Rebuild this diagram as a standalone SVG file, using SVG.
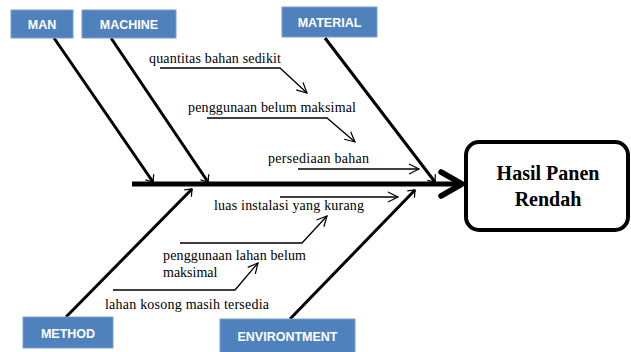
<svg xmlns="http://www.w3.org/2000/svg" width="631" height="352" viewBox="0 0 631 352">
<defs>
<marker id="big" viewBox="0 0 12 12" refX="10" refY="6" markerWidth="6" markerHeight="6" markerUnits="userSpaceOnUse" orient="auto" overflow="visible">
<path d="M-2,-4 L10,6 L-2,16" fill="none" stroke="#000" stroke-width="2.5"/>
</marker>
<marker id="sm" viewBox="0 0 10 10" refX="10" refY="5" markerWidth="10" markerHeight="10" markerUnits="userSpaceOnUse" orient="auto" overflow="visible">
<path d="M0,0 L10,5 L0,10" fill="none" stroke="#000" stroke-width="1.2"/>
</marker>
<marker id="spine" viewBox="0 0 10 10" refX="9" refY="5" markerWidth="10" markerHeight="10" markerUnits="userSpaceOnUse" orient="auto" overflow="visible">
<path d="M-12,-7 L9,5 L-12,17" fill="none" stroke="#000" stroke-width="5.5" stroke-linecap="round" stroke-linejoin="round"/>
</marker>
</defs>
<style>
.cat rect{fill:#4F81BD;stroke:#7BA0CD;stroke-width:1}
.cat text{fill:#fff;font-family:"Liberation Sans",Arial,sans-serif;font-weight:bold;font-size:12.5px;text-anchor:middle}
.bone{stroke:#000;stroke-width:3;fill:none;marker-end:url(#big)}
.sub{stroke:#000;stroke-width:1.3;fill:none;marker-end:url(#sm)}
.lbl{font-family:"Liberation Serif","Times New Roman",serif;font-size:14px;fill:#000}
</style>
<g id="connectors">
<line x1="132" y1="184" x2="462" y2="184" stroke="#000" stroke-width="5" marker-end="url(#spine)"/>
<line class="bone" x1="54" y1="38" x2="153" y2="182"/>
<line class="bone" x1="111" y1="38" x2="208" y2="182"/>
<line class="bone" x1="325" y1="38" x2="435" y2="182"/>
<line class="bone" x1="66" y1="317" x2="192" y2="189"/>
<line class="bone" x1="290" y1="319" x2="415" y2="190"/>
<polyline class="sub" points="160,68 280,68 307,93"/>
<polyline class="sub" points="207,118 327,118 355,142"/>
<polyline class="sub" points="298,169 419,169"/>
<polyline class="sub" points="280,197 398,197"/>
<polyline class="sub" points="180,243 302,243 327,216"/>
<polyline class="sub" points="113,290 235,290 258,263"/>
</g>
<g id="man" class="cat"><rect x="11" y="10" width="62" height="28"/><text x="42" y="29">MAN</text></g>
<g id="machine" class="cat"><rect x="82" y="10" width="94" height="28"/><text x="129" y="29">MACHINE</text></g>
<g id="material" class="cat"><rect x="282" y="7" width="95" height="30"/><text x="329.5" y="27">MATERIAL</text></g>
<g id="method" class="cat"><rect x="23" y="317" width="90" height="31"/><text x="68" y="338">METHOD</text></g>
<g id="environtment" class="cat"><rect x="220" y="319" width="135" height="34"/><text x="287.5" y="341">ENVIRONTMENT</text></g>
<g id="result">
<rect x="466" y="142" width="162" height="88" rx="13" fill="#fff" stroke="#000" stroke-width="4"/>
<text x="548" y="180" font-family="'Liberation Serif','Times New Roman',serif" font-weight="bold" font-size="20" text-anchor="middle">Hasil Panen</text>
<text x="548" y="206" font-family="'Liberation Serif','Times New Roman',serif" font-weight="bold" font-size="20" text-anchor="middle">Rendah</text>
</g>
<g id="labels">
<text class="lbl" x="149" y="63" textLength="132">quantitas bahan sedikit</text>
<text class="lbl" x="188" y="112" textLength="168">penggunaan belum maksimal</text>
<text class="lbl" x="268" y="163" textLength="101">persediaan bahan</text>
<text class="lbl" x="214" y="210" textLength="150">luas instalasi  yang kurang</text>
<text class="lbl" x="163" y="260" textLength="143">penggunaan lahan belum</text>
<text class="lbl" x="163" y="277">maksimal</text>
<text class="lbl" x="105" y="309" textLength="164">lahan kosong masih tersedia</text>
</g>
</svg>
